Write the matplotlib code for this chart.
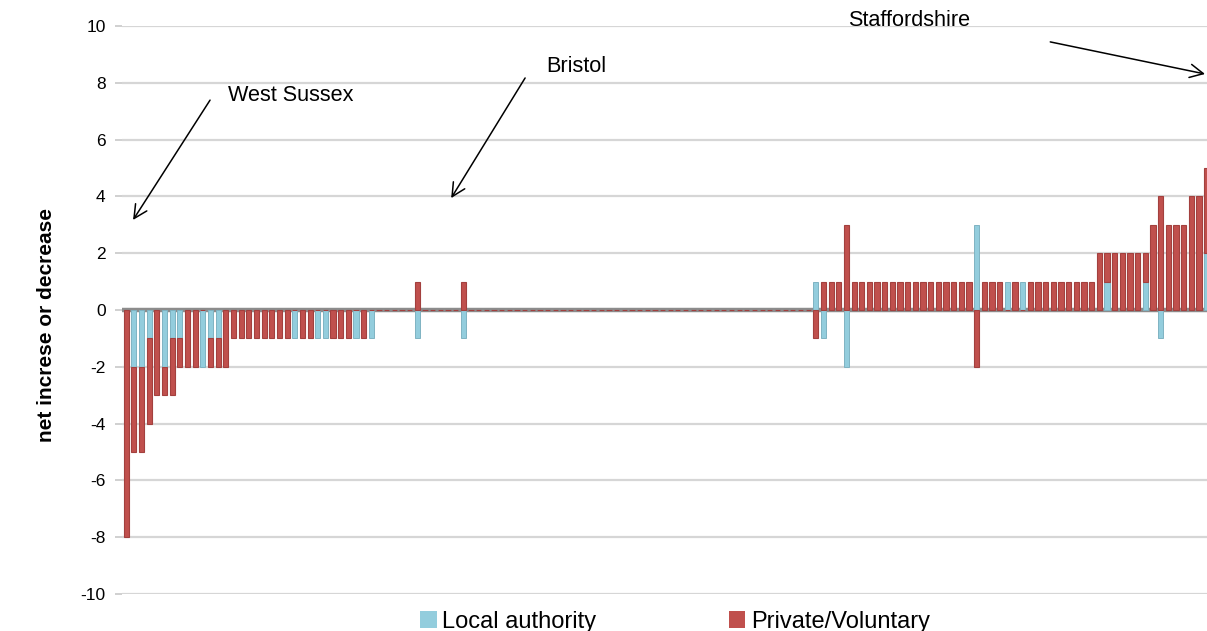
import numpy as np
import matplotlib
matplotlib.use("Agg")
import matplotlib.pyplot as plt
from matplotlib.patches import Patch

plt.rcParams['font.family'] = ['Liberation Sans', 'DejaVu Sans']

# ---- data (net increase/decrease per council, left to right) ----
local_authority = [
    0, -2, -2, -1, 0, -2, -1, -1, 0, 0,
    -2, -1, -1, 0, 0, 0, 0, 0, 0, 0,
    0, 0, -1, 0, 0, -1, -1, 0, 0, 0,
    -1, 0, -1, 0, 0, 0, 0, 0, -1, 0,
    0, 0, 0, 0, -1, 0, 0, 0, 0, 0,
    0, 0, 0, 0, 0, 0, 0, 0, 0, 0,
    0, 0, 0, 0, 0, 0, 0, 0, 0, 0,
    0, 0, 0, 0, 0, 0, 0, 0, 0, 0,
    0, 0, 0, 0, 0, 0, 0, 0, 0, 0,
    1, -1, 0, 0, -2, 0, 0, 0, 0, 0,
    0, 0, 0, 0, 0, 0, 0, 0, 0, 0,
    0, 3, 0, 0, 0, 1, 0, 1, 0, 0,
    0, 0, 0, 0, 0, 0, 0, 0, 1, 0,
    0, 0, 0, 1, 0, -1, 0, 0, 0, 0,
    0, 2,
]
private_voluntary = [
    -8, -3, -3, -3, -3, -1, -2, -1, -2, -2,
    0, -1, -1, -2, -1, -1, -1, -1, -1, -1,
    -1, -1, 0, -1, -1, 0, 0, -1, -1, -1,
    0, -1, 0, 0, 0, 0, 0, 0, 1, 0,
    0, 0, 0, 0, 1, 0, 0, 0, 0, 0,
    0, 0, 0, 0, 0, 0, 0, 0, 0, 0,
    0, 0, 0, 0, 0, 0, 0, 0, 0, 0,
    0, 0, 0, 0, 0, 0, 0, 0, 0, 0,
    0, 0, 0, 0, 0, 0, 0, 0, 0, 0,
    -1, 1, 1, 1, 3, 1, 1, 1, 1, 1,
    1, 1, 1, 1, 1, 1, 1, 1, 1, 1,
    1, -2, 1, 1, 1, 0, 1, 0, 1, 1,
    1, 1, 1, 1, 1, 1, 1, 2, 1, 2,
    2, 2, 2, 1, 3, 4, 3, 3, 3, 4,
    4, 3,
]
series_names = ["Local authority", "Private/Voluntary"]
y_ticks = [-10, -8, -6, -4, -2, 0, 2, 4, 6, 8, 10]
callouts = ["West Sussex", "Bristol", "Staffordshire"]

la = np.array(local_authority, dtype=float)
pv = np.array(private_voluntary, dtype=float)
x = np.arange(len(la))
pv_bottom = np.where(pv > 0, np.maximum(la, 0), np.where(pv < 0, np.minimum(la, 0), 0))

BLUE = '#93CDDD'
RED = '#C0504D'

W, H = 1207, 631
fig = plt.figure(figsize=(W / 100, H / 100), dpi=100)
ax = fig.add_axes([122.4 / W, 37 / H, 1088 / W, 568 / H])

ax.set_xlim(-0.5, len(la) - 0.5)
ax.set_ylim(-10, 10)
ax.set_yticks(y_ticks)
ax.set_yticklabels([str(v) for v in y_ticks])
ax.set_xticks([])
ax.grid(axis='y', color='#D6D6D6', lw=1.6, zorder=0)
ax.set_axisbelow(True)
for s in ax.spines.values():
    s.set_visible(False)
ax.tick_params(axis='y', length=5, color='#C8C8C8', width=1.2, pad=7, labelsize=12.5)

ax.axhline(0, color='#8C8C8C', lw=3.2, zorder=1.5)

b1 = ax.bar(x, la, width=0.68, color=BLUE, edgecolor='#7FB3C2', lw=0.7, zorder=2,
            label=series_names[0])
b2 = ax.bar(x, pv, bottom=pv_bottom, width=0.68, color=RED, edgecolor='#A3403E', lw=0.8,
            zorder=2.1, label=series_names[1])

ax.set_ylabel('net increse or decrease', fontweight='bold', fontsize=15)
ax.yaxis.set_label_coords(-0.061, 0.474)

arrow_kw = dict(arrowstyle='->,head_length=0.6,head_width=0.3', color='black', lw=1.1,
                shrinkA=0, shrinkB=0, mutation_scale=16)
# West Sussex
ax.annotate('', xy=(0.89, 3.17), xytext=(10.94, 7.39), arrowprops=arrow_kw)
ax.text(13.3, 7.54, callouts[0], ha='left', va='center', fontsize=15.6)
# Bristol
ax.annotate('', xy=(42.41, 3.94), xytext=(52.06, 8.17), arrowprops=arrow_kw)
ax.text(54.8, 8.59, callouts[1], ha='left', va='center', fontsize=15.6)
# Staffordshire
ax.annotate('', xy=(140.8, 8.31), xytext=(120.6, 9.44), arrowprops=arrow_kw, annotation_clip=False)
ax.text(94.2, 10.21, callouts[2], ha='left', va='center', fontsize=15.6)

handles = [Patch(facecolor=BLUE), Patch(facecolor=RED)]
ax.legend(handles, series_names, loc='center left', bbox_to_anchor=(420 / W, 1 - 622 / H),
          bbox_transform=fig.transFigure, ncol=2, frameon=False, fontsize=17,
          handlelength=0.7, handleheight=0.7, handletextpad=0.25, columnspacing=5.6,
          borderpad=0, borderaxespad=0)

fig.savefig('out.png', dpi=100)
